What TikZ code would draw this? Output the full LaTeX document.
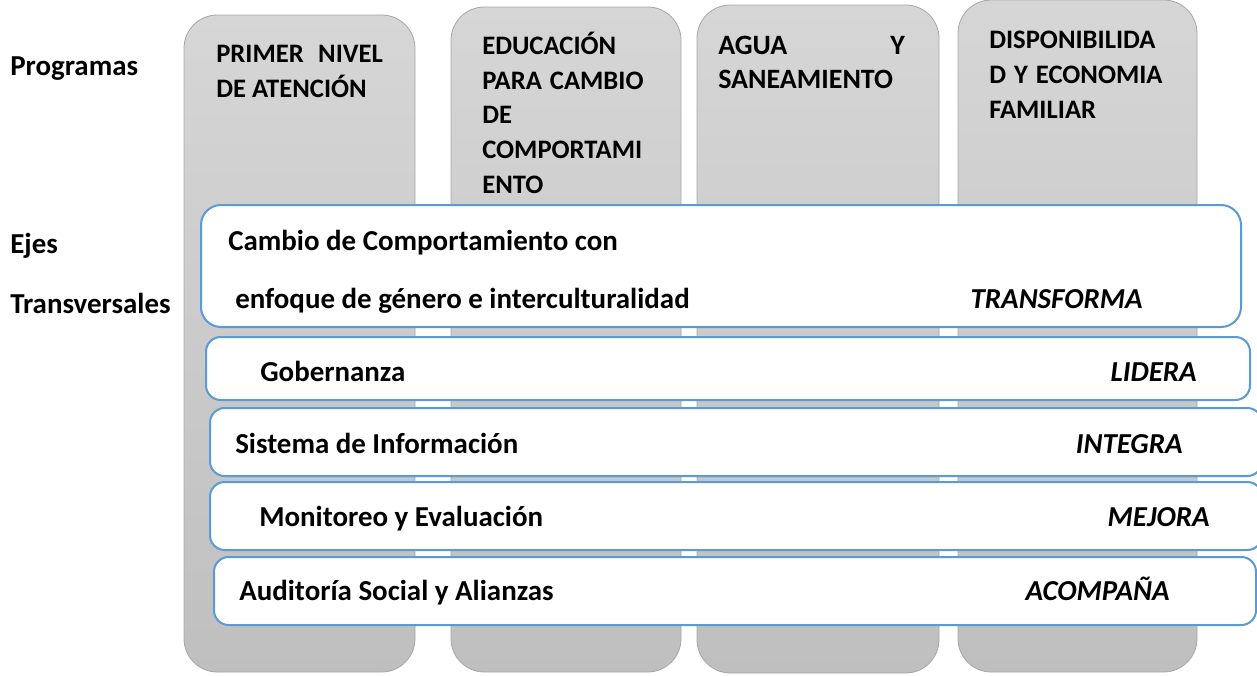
\documentclass[tikz,border=0pt]{standalone}
\usepackage{fontspec}
\setmainfont{Carlito}
\definecolor{colTop}{RGB}{214,214,214}
\definecolor{colBot}{RGB}{191,191,191}
\definecolor{colEdge}{RGB}{166,166,166}
\definecolor{axisBlue}{RGB}{91,155,213}
\tikzset{
  program/.style={draw=colEdge, line width=0.6pt, top color=colTop, bottom color=colBot, rounded corners=25pt},
  axisbar/.style={draw=axisBlue, line width=1.5pt, fill=white, rounded corners=11pt},
  lbl/.style={inner sep=0pt, font=\fontsize{21.7}{25.5}\selectfont\bfseries, align=left},
  head/.style={inner sep=0pt, font=\fontsize{20}{26}\selectfont\bfseries, align=left},
  verb/.style={inner sep=0pt, font=\fontsize{21.7}{25.5}\selectfont\bfseries\itshape}
}
\begin{document}
\begin{tikzpicture}[x=0.75pt,y=0.75pt,yscale=-1,xscale=1]
\useasboundingbox (0,0) rectangle (1257,675);
\clip (0,0) rectangle (1257,675);

%Shape: Rounded Rect [id:programas]
\draw [program] (184,15) rectangle (415,672);
\draw [program] (451,7) rectangle (681,672);
\draw [program] (697,5) rectangle (939,673);
\draw [program] (958,0) rectangle (1197,672);

% Text Node
\draw (10,75) node (prog) [lbl, anchor=base west] {Programas};
\draw (10,253) node (ejes) [lbl, anchor=base west] {Ejes};
\draw (10,313) node (transv) [lbl, anchor=base west] {Transversales};

% Text Node (anchored on the last line)
\draw (216,97) node (primer) [head, anchor=base west] {\makebox[125pt][l]{PRIMER\hfill NIVEL}\\DE ATENCIÓN};
\draw (482,193) node (educ) [head, anchor=base west] {EDUCACIÓN\\\makebox[121pt][l]{PARA\hfill CAMBIO}\\DE\\COMPORTAMI\\ENTO};
\draw (718,88) node (agua) [head, font=\fontsize{21}{25}\selectfont\bfseries, anchor=base west] {\makebox[140pt][l]{AGUA\hfill Y}\\SANEAMIENTO};
\draw (989,118) node (disp) [head, anchor=base west] {DISPONIBILIDA\\\makebox[130pt][l]{D\hfill Y\hfill ECONOMIA}\\FAMILIAR};

%Shape: Rounded Rect [id:ejes]
\draw [axisbar, rounded corners=15pt] (201,205) rectangle (1241,327);
\draw [axisbar] (206,337) rectangle (1250,400);
\draw [axisbar] (210,408) rectangle (1262,476);
\draw [axisbar] (210,482) rectangle (1262,550);
\draw [axisbar] (214,557) rectangle (1256,625);

% Text Node
\begin{scope}
\clip (201,205) rectangle (1241,312);
\draw (228,250) node (cambio) [lbl, anchor=base west] {Cambio de Comportamiento con};
\draw (235,308) node (enfoque) [lbl, anchor=base west] {enfoque de género e interculturalidad};
\end{scope}
\draw (1143,308) node (transforma) [verb, anchor=base east] {TRANSFORMA};
\draw (260,381) node (gober) [lbl, anchor=base west] {Gobernanza};
\draw (1197,381) node (lidera) [verb, anchor=base east] {LIDERA};
\draw (235,453) node (sistema) [lbl, anchor=base west] {Sistema de Información};
\draw (1183,453) node (integra) [verb, anchor=base east] {INTEGRA};
\draw (259,526) node (monit) [lbl, anchor=base west] {Monitoreo y Evaluación};
\draw (1210,526) node (mejora) [verb, anchor=base east] {MEJORA};
\draw (239,600) node (audit) [lbl, anchor=base west] {Auditoría Social y Alianzas};
\draw (1170,600) node (acomp) [verb, anchor=base east] {ACOMPAÑA};

\end{tikzpicture}
\end{document}
